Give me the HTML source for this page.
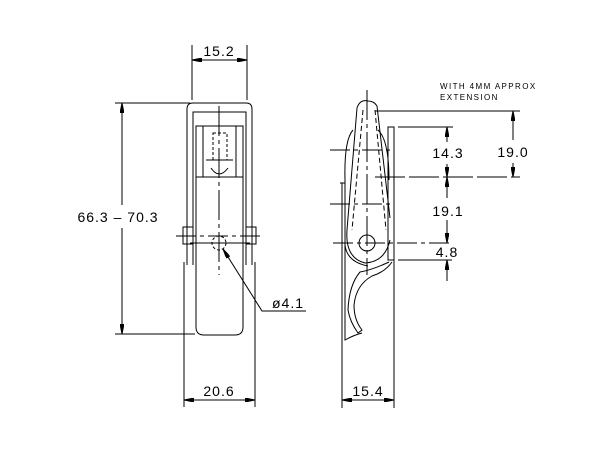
<!DOCTYPE html>
<html><head><style>body{margin:0;background:#fff}svg{display:block}text{font-family:"Liberation Sans",sans-serif;fill:#000}.d{font-size:14px;letter-spacing:1px}</style></head><body>
<svg width="600" height="450" viewBox="0 0 600 450" stroke="#000" fill="none" stroke-width="1">
<defs><marker id="a" viewBox="0 0 10 4" refX="10" refY="2" markerWidth="10" markerHeight="4" orient="auto-start-reverse"><path d="M0,0L10,2L0,4z" fill="#000"/></marker></defs>
<path d="M187,265V109Q187,103 193,103H246Q252,103 252,109V265"/>
<path d="M193,265V112H246V265"/>
<rect x="196" y="126" width="47" height="51"/>
<line x1="203" y1="126" x2="203" y2="177"/><line x1="236" y1="126" x2="236" y2="177"/>
<rect x="213" y="133" width="14" height="27" stroke-dasharray="3,2"/>
<line x1="206" y1="160" x2="233" y2="160"/>
<path d="M211,168Q219,180 228,168" />
<path d="M196,177V327Q196,335 204,335H235Q243,335 243,327V177"/>
<line x1="196" y1="177" x2="243" y2="177"/>
<rect x="183" y="227" width="10" height="17"/><rect x="246" y="227" width="10" height="17"/>
<circle cx="219" cy="243" r="7" stroke-dasharray="3,2"/>
<line x1="219" y1="106" x2="219" y2="275" stroke-dasharray="30,4,4,4"/>
<line x1="176" y1="236" x2="262" y2="236" stroke-dasharray="20,4,4,4"/>
<line x1="190" y1="243" x2="250" y2="243"/>
<line x1="192" y1="45" x2="192" y2="100"/><line x1="247" y1="45" x2="247" y2="100"/>
<line x1="192" y1="60" x2="247" y2="60" marker-start="url(#a)" marker-end="url(#a)"/>
<text x="219" y="56" class="d" text-anchor="middle" stroke="none">15.2</text>
<line x1="115" y1="103" x2="190" y2="103"/><line x1="115" y1="334" x2="195" y2="334"/>
<line x1="122" y1="103" x2="122" y2="205" marker-start="url(#a)"/>
<line x1="122" y1="228" x2="122" y2="334" marker-end="url(#a)"/>
<text x="118" y="222" class="d" text-anchor="middle" stroke="none">66.3 – 70.3</text>
<line x1="184" y1="262" x2="184" y2="407"/><line x1="255" y1="262" x2="255" y2="407"/>
<line x1="184" y1="400" x2="255" y2="400" marker-start="url(#a)" marker-end="url(#a)"/>
<text x="219" y="396" class="d" text-anchor="middle" stroke="none">20.6</text>
<polyline points="223,249 262,311 306,311" marker-start="url(#a)"/>
<text x="272" y="308" class="d" stroke="none">ø4.1</text>
<line x1="342" y1="183" x2="342" y2="408"/>
<line x1="394" y1="127" x2="394" y2="408"/>
<rect x="388" y="127" width="6" height="133"/>
<path d="M357,108Q360,99 368,101Q374,101 377,106L390,218"/>
<path d="M357,108L347,230Q345,258 365,263Q385,262 390,240"/>
<path d="M363,110L352,230" stroke-dasharray="5,3"/>
<path d="M375,110L386,230" stroke-dasharray="5,3"/>
<path d="M353,130Q344,140 345,180V245Q347,262 368,266"/>
<path d="M378,130Q389,140 389,180"/>
<path d="M340,183H345V340Q354,335 362,333"/>
<path d="M389,262Q372,270 360,272Q349,285 348,310Q350,322 358,333L362,330Q354,320 354,305Q356,285 372,276Q385,272 392,262"/>
<circle cx="367" cy="243" r="8"/>
<line x1="367" y1="90" x2="367" y2="275" stroke-dasharray="30,4,4,4"/>
<line x1="330" y1="150" x2="390" y2="150" stroke-dasharray="20,4,4,4"/>
<line x1="330" y1="204" x2="390" y2="204" stroke-dasharray="20,4,4,4"/>
<line x1="333" y1="243" x2="453" y2="243" stroke-dasharray="20,4,4,4"/>
<line x1="375" y1="111" x2="520" y2="111"/>
<line x1="398" y1="127" x2="453" y2="127"/>
<line x1="375" y1="177" x2="520" y2="177" stroke-dasharray="30,4"/>
<line x1="398" y1="260" x2="452" y2="260"/>
<line x1="447" y1="127" x2="447" y2="142" marker-start="url(#a)"/>
<line x1="447" y1="164" x2="447" y2="177" marker-end="url(#a)"/>
<line x1="447" y1="177" x2="447" y2="198" marker-start="url(#a)"/>
<line x1="447" y1="220" x2="447" y2="243" marker-end="url(#a)"/>
<line x1="447" y1="260" x2="447" y2="281" marker-start="url(#a)"/>
<line x1="513" y1="111" x2="513" y2="140" marker-start="url(#a)"/>
<line x1="513" y1="163" x2="513" y2="177" marker-end="url(#a)"/>
<text x="448" y="158" class="d" text-anchor="middle" stroke="none">14.3</text>
<text x="448" y="216" class="d" text-anchor="middle" stroke="none">19.1</text>
<text x="447" y="257" class="d" text-anchor="middle" stroke="none">4.8</text>
<text x="513" y="157" class="d" text-anchor="middle" stroke="none">19.0</text>
<line x1="342" y1="400" x2="394" y2="400" marker-start="url(#a)" marker-end="url(#a)"/>
<text x="368" y="396" class="d" text-anchor="middle" stroke="none">15.4</text>
<text x="440" y="89" font-size="8" letter-spacing="1.4" stroke="none">WITH 4MM APPROX</text>
<text x="440" y="100" font-size="8" letter-spacing="1.4" stroke="none">EXTENSION</text>
</svg>
</body></html>
